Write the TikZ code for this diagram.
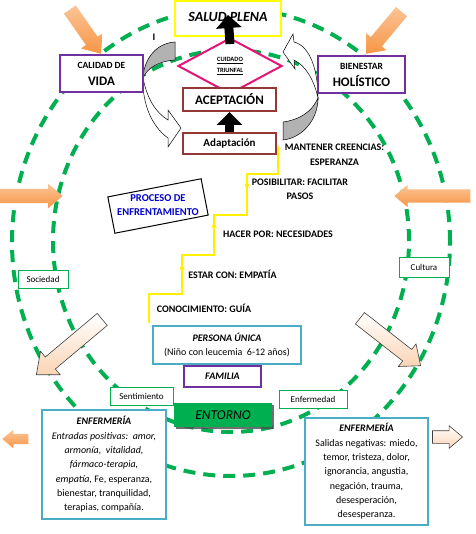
\documentclass[tikz,border=0pt]{standalone}
\usepackage{fontspec}
\setmainfont{Carlito}
\usetikzlibrary{shapes.geometric,shapes.arrows,shadows,arrows.meta}

\definecolor{ringgreen}{RGB}{0,176,80}
\definecolor{framepurple}{RGB}{112,48,160}
\definecolor{framemaroon}{RGB}{149,55,53}
\definecolor{framepink}{RGB}{230,20,120}
\definecolor{frameblue}{RGB}{75,172,198}
\definecolor{saludyellow}{RGB}{255,255,0}
\definecolor{stairyellow}{RGB}{255,240,0}
\definecolor{procblue}{RGB}{0,0,204}
\definecolor{arrorange}{RGB}{247,150,70}
\definecolor{arrlight}{RGB}{251,196,150}
\definecolor{peach}{RGB}{251,212,180}

\newcommand{\fsz}[2]{\fontsize{#1}{#2}\selectfont}

\tikzset{
  ring/.style={draw=ringgreen, line width=4pt, dash pattern=on 12pt off 8pt},
  orangearrow/.style n args={3}{single arrow, anchor=tip, inner xsep=0pt, inner ysep=#2,
    single arrow head extend=#3, minimum height=#1, minimum width=0pt,
    single arrow tip angle=80, top color=arrlight, bottom color=arrorange, draw=none},
  peacharrow/.style n args={3}{single arrow, anchor=tip, inner xsep=0pt, inner ysep=#2,
    single arrow head extend=#3, minimum height=#1, minimum width=0pt,
    single arrow tip angle=80, top color=white, bottom color=peach, draw=black!75, line width=0.6pt},
  curvewhite/.style={draw=black, line width=0.5pt, fill=white},
  curvegray/.style={draw=black, line width=0.5pt, fill=black!30},
  stair/.style={draw=stairyellow, line width=1.3pt},
  bigup/.style={line width=9pt, -{Triangle[width=25pt,length=13pt]}},
  steplabel/.style={font=\fsz{10}{15}\bfseries, align=center, inner sep=0pt},
  ctxbox/.style={draw=ringgreen, line width=1pt, fill=white, font=\fsz{9}{11}, inner sep=0pt},
}

\begin{document}
\begin{tikzpicture}[x=1pt, y=-1pt]
  \path[use as bounding box, fill=white] (0,0) rectangle (475,534);

  % the two rings of the environment
  \draw[ring] (231,242) ellipse [x radius=219pt, y radius=234pt];
  \draw[ring] (231,241) ellipse [x radius=178pt, y radius=191pt];

  % outside influences
  \node[orangearrow={54pt}{7pt}{6pt}, rotate=-55] (otl) at (101,54) {};
  \node[orangearrow={55pt}{7pt}{6pt}, rotate=-130] (otr) at (366,54) {};
  \node[orangearrow={63pt}{7pt}{5pt}] (oml) at (63,196) {};
  \node[orangearrow={76pt}{6.5pt}{4.5pt}, rotate=180] (omr) at (394,196) {};
  \node[orangearrow={26pt}{5pt}{4pt}, rotate=180] (obl) at (2,439) {};
  \node[peacharrow={86pt}{7.5pt}{7.5pt}, rotate=220] (ptl) at (36,375) {};
  \node[peacharrow={77pt}{7pt}{7pt}, rotate=-38] (ptr) at (421,366) {};
  \node[peacharrow={30pt}{6pt}{5pt}] (pbr) at (463,437) {};

  % turning arrows
  \draw[curvewhite] (143,78) .. controls (142,102) and (151,126) .. (168,138) -- (168,147) -- (181,128)
    -- (168,110) -- (168,120) .. controls (155,112) and (147,98) .. (143,78) -- cycle;
  \draw[curvegray] (175,42) .. controls (157,43) and (144,58) .. (143,78)
    .. controls (147,68) and (159,61) .. (175,60) -- cycle;
  \draw[curvewhite] (294,42) .. controls (310,46) and (318,70) .. (318,98)
    .. controls (314,80) and (306,66) .. (294,60) -- (295,69) -- (283,52) -- (293,34) -- cycle;
  \draw[curvegray] (318,98) .. controls (318,120) and (302,138) .. (283,140) -- (283,122)
    .. controls (299,120) and (312,112) .. (318,98) -- cycle;

  % staircase
  \coordinate (stairfoot) at (149,323);
  \draw[stair, -{Latex[length=5pt,width=5pt]}]
    (stairfoot) -- ++(0,-29) -- ++(33,0) -- ++(0,-39) -- ++(32,0) -- ++(0,-40)
    -- ++(33,0) -- ++(0,-41) -- ++(31,0) -- ++(0,-29);
  \foreach \mx/\my in {182/267, 214/225, 247/184}
    \fill[stairyellow] (\mx,\my) ++(0,-3) -- ++(2.6,5.5) -- ++(-5.2,0) -- cycle;

  % main boxes
  \begin{scope}[every node/.style={fill=white, line width=2pt, inner sep=0pt, align=center, font=\bfseries}]
    \node[draw=saludyellow, minimum width=106pt, minimum height=35pt, font=\fsz{14}{16}\bfseries\itshape] (salud) at (228,18.5) {\raisebox{4pt}{SALUD PLENA}};
    \node[diamond, draw=framepink, minimum width=104pt, minimum height=56pt, font=\fsz{6.5}{8}\bfseries] (cuidado) at (230,66) {\underline{CUIDADO}\\[3pt]\underline{TRIUNFAL}};
    \node[draw=framemaroon, minimum width=93pt, minimum height=23pt, font=\fsz{13}{15}\bfseries] (acept) at (229.5,99.5) {ACEPTACIÓN};
    \node[draw=framemaroon, minimum width=93pt, minimum height=21pt, font=\fsz{11}{13}\bfseries] (adapt) at (229.5,144) {Adaptación};
    \node[draw=framepurple, minimum width=83pt, minimum height=37pt] (calidad) at (101.5,73.5) {{\fsz{9.5}{11}CALIDAD DE}\\[5pt]{\fsz{13}{15}VIDA}};
    \node[draw=framepurple, minimum width=87pt, minimum height=37pt] (bienestar) at (361.5,74.5) {{\fsz{9.5}{11}BIENESTAR}\\[5pt]{\fsz{13}{15}HOLÍSTICO}};
    \node[draw=frameblue, minimum width=148pt, minimum height=38pt, font=\fsz{10}{14.5}] (persona) at (227,345) {{\bfseries\itshape PERSONA ÚNICA}\\(Niño con leucemia\ \ 6-12 años)};
    \node[draw=framepurple, minimum width=77pt, minimum height=21pt, font=\fsz{10}{12}\bfseries\itshape] (familia) at (222.5,376.5) {FAMILIA};
  \end{scope}

  \draw[bigup] ([yshift=-7pt]cuidado.north) -- ([yshift=3.5pt]salud.center);
  \draw[bigup] (adapt.north) -- (acept.south);
  \node[font=\fsz{10}{12}\bfseries] (stray) at (154,37.5) {I};

  % coping process
  \node[draw=black, line width=1pt, fill=white, minimum width=95pt, minimum height=37pt, rotate=11] (procbox) at (158,206) {};
  \node[font=\fsz{10.5}{14}\bfseries, text=procblue, align=center] (proc) at (158,205) {PROCESO DE\\ENFRENTAMIENTO};

  \node[steplabel] (mantener) at (334.5,154.5) {MANTENER CREENCIAS:\\ESPERANZA};
  \node[steplabel, font=\fsz{10}{14}\bfseries] (posibilitar) at (300,189) {POSIBILITAR: FACILITAR\\PASOS};
  \node[steplabel] (hacer) at (278,234) {HACER POR: NECESIDADES};
  \node[steplabel] (estar) at (232.5,274) {ESTAR CON: EMPATÍA};
  \node[steplabel] (conocimiento) at (204,308) {CONOCIMIENTO: GUÍA};

  % context
  \node[ctxbox, minimum width=50pt, minimum height=18pt] (sociedad) at (43,279) {Sociedad};
  \node[ctxbox, minimum width=50pt, minimum height=20pt] (cultura) at (424,267) {Cultura};
  \node[ctxbox, minimum width=63pt, minimum height=18pt] (sentimiento) at (141.5,396) {Sentimiento};
  \node[ctxbox, minimum width=68pt, minimum height=18pt] (enfermedad) at (313,399) {Enfermedad};

  \node[fill=ringgreen, minimum width=98pt, minimum height=24pt, font=\fsz{13.5}{15}\itshape,
    drop shadow={shadow xshift=2pt, shadow yshift=-2pt, fill=black!70, opacity=0.8}] (entorno) at (223,415) {ENTORNO};

  % nursing
  \begin{scope}[every node/.style={draw=frameblue, line width=2pt, fill=white, inner sep=0pt, align=center, font=\fsz{10}{14.3}}]
    \node[minimum width=124pt, minimum height=109pt] (entradas) at (104,464.5) {{\bfseries\itshape ENFERMERÍA}\\
      {\itshape Entradas positivas:\ \ amor,}\\
      {\itshape armonía,\ \ vitalidad,}\\
      {\itshape fármaco-terapia,}\\
      {\itshape empatía,} Fe, esperanza,\\
      bienestar, tranquilidad,\\
      terapias, compañía.};
    \node[minimum width=123pt, minimum height=107pt] (salidas) at (366.5,471.5) {{\bfseries\itshape ENFERMERÍA}\\
      Salidas negativas: miedo,\\
      temor, tristeza, dolor,\\
      ignorancia, angustia,\\
      negación, trauma,\\
      desesperación,\\
      desesperanza.};
  \end{scope}
\end{tikzpicture}
\end{document}
